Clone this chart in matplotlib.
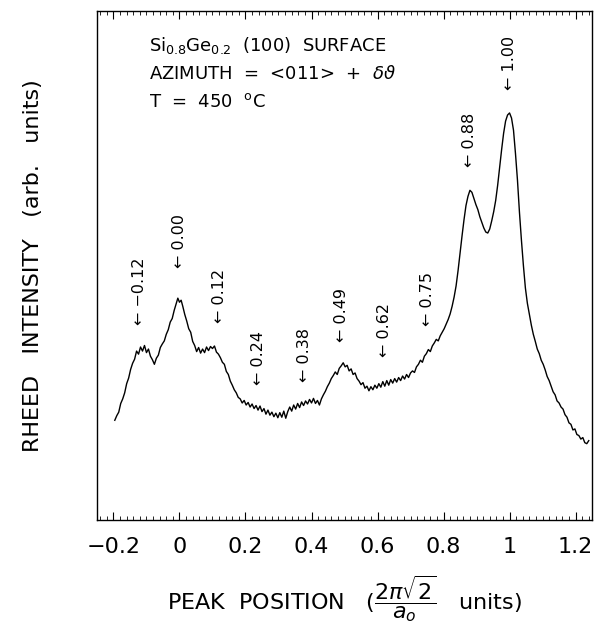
import numpy as np
import matplotlib
matplotlib.use("Agg")
import matplotlib.pyplot as plt
from matplotlib.ticker import MultipleLocator

# RHEED intensity scan (arb. units, 0-100)
position = [
    -0.196, -0.190, -0.184, -0.178, -0.172, -0.166, -0.160, -0.154, -0.148, -0.142,
    -0.136, -0.130, -0.124, -0.118, -0.112, -0.106, -0.100, -0.094, -0.088, -0.082,
    -0.076, -0.070, -0.064, -0.058, -0.052, -0.046, -0.040, -0.034, -0.028, -0.022,
    -0.016, -0.010, -0.005, 0.000, 0.005, 0.010, 0.016, 0.022, 0.028, 0.034,
    0.040, 0.046, 0.052, 0.058, 0.064, 0.070, 0.076, 0.082, 0.088, 0.094,
    0.100, 0.106, 0.112, 0.118, 0.124, 0.130, 0.136, 0.142, 0.148, 0.154,
    0.160, 0.166, 0.172, 0.178, 0.184, 0.190, 0.196, 0.202, 0.208, 0.214,
    0.220, 0.226, 0.232, 0.238, 0.244, 0.250, 0.256, 0.262, 0.268, 0.274,
    0.280, 0.286, 0.292, 0.298, 0.304, 0.310, 0.316, 0.322, 0.328, 0.334,
    0.340, 0.346, 0.352, 0.358, 0.364, 0.370, 0.376, 0.382, 0.388, 0.394,
    0.400, 0.406, 0.412, 0.418, 0.424, 0.430, 0.436, 0.442, 0.448, 0.454,
    0.460, 0.466, 0.472, 0.478, 0.484, 0.490, 0.496, 0.502, 0.508, 0.514,
    0.520, 0.526, 0.532, 0.538, 0.544, 0.550, 0.556, 0.562, 0.568, 0.574,
    0.580, 0.586, 0.592, 0.598, 0.604, 0.610, 0.616, 0.622, 0.628, 0.634,
    0.640, 0.646, 0.652, 0.658, 0.664, 0.670, 0.676, 0.682, 0.688, 0.694,
    0.700, 0.706, 0.712, 0.718, 0.724, 0.730, 0.736, 0.742, 0.748, 0.754,
    0.760, 0.766, 0.772, 0.778, 0.784, 0.790, 0.796, 0.802, 0.808, 0.814,
    0.820, 0.826, 0.832, 0.838, 0.844, 0.850, 0.856, 0.862, 0.868, 0.874,
    0.880, 0.886, 0.892, 0.898, 0.904, 0.910, 0.916, 0.922, 0.928, 0.934,
    0.940, 0.946, 0.952, 0.958, 0.964, 0.970, 0.976, 0.982, 0.988, 0.994,
    1.000, 1.006, 1.012, 1.018, 1.024, 1.030, 1.036, 1.042, 1.048, 1.054,
    1.060, 1.066, 1.072, 1.078, 1.084, 1.090, 1.096, 1.102, 1.108, 1.114,
    1.120, 1.126, 1.132, 1.138, 1.144, 1.150, 1.156, 1.162, 1.168, 1.174,
    1.180, 1.186, 1.192, 1.198, 1.204, 1.210, 1.216, 1.222, 1.228, 1.234,
    1.240,
]
intensity = [
    19.6, 20.5, 21.2, 22.9, 23.8, 25.0, 26.8, 27.9, 29.6, 30.8,
    31.6, 33.2, 32.6, 34.0, 33.2, 34.3, 32.9, 33.6, 32.2, 31.5,
    30.6, 31.8, 32.4, 33.9, 34.6, 35.2, 36.5, 37.4, 38.9, 39.6,
    41.2, 42.5, 43.6, 42.8, 43.2, 42.0, 40.4, 39.1, 37.6, 36.9,
    35.1, 34.3, 33.1, 33.9, 32.8, 33.6, 32.9, 34.0, 33.3, 34.1,
    33.7, 34.2, 33.0, 32.6, 31.9, 31.0, 30.6, 29.2, 28.6, 27.3,
    26.5, 25.6, 25.0, 24.1, 23.8, 23.0, 23.5, 22.6, 23.1, 22.2,
    22.8, 21.9, 22.5, 21.6, 22.4, 21.3, 21.9, 20.8, 21.6, 20.6,
    21.2, 20.3, 21.0, 20.1, 21.1, 20.2, 21.4, 20.0, 21.3, 22.2,
    21.4, 22.6, 21.8, 22.9, 22.1, 23.2, 22.5, 23.4, 22.8, 23.7,
    23.0, 23.9, 22.9, 23.5, 22.6, 23.8, 24.6, 25.3, 26.2, 26.9,
    27.8, 28.4, 29.1, 28.6, 29.8, 30.3, 30.9, 30.1, 30.4, 29.3,
    29.7, 28.6, 28.9, 27.8, 27.3, 26.6, 27.0, 25.9, 26.3, 25.4,
    26.2, 25.6, 26.5, 25.9, 26.8, 26.1, 27.2, 26.3, 27.4, 26.5,
    27.6, 26.9, 27.8, 27.1, 28.0, 27.4, 28.3, 27.7, 28.6, 28.0,
    28.9, 29.3, 29.0, 30.1, 30.6, 31.4, 31.0, 32.2, 32.7, 33.5,
    33.1, 34.2, 34.8, 35.5, 35.2, 36.2, 36.9, 37.6, 38.5, 39.4,
    40.5, 42.0, 43.8, 46.0, 49.0, 52.4, 55.8, 59.0, 61.8, 63.6,
    64.8, 64.4, 63.2, 62.0, 61.0, 59.6, 58.5, 57.4, 56.6, 56.4,
    57.2, 58.8, 60.6, 62.8, 65.8, 69.4, 72.8, 76.0, 78.4, 79.6,
    80.0, 79.0, 76.6, 72.0, 66.8, 60.5, 55.0, 50.0, 45.6, 42.6,
    40.4, 38.3, 36.5, 35.1, 33.6, 32.7, 31.4, 30.6, 29.5, 28.2,
    27.4, 26.3, 25.2, 24.6, 23.4, 23.0, 22.2, 21.8, 20.7, 20.2,
    19.1, 18.8, 17.7, 17.9, 16.8, 16.6, 15.9, 16.2, 15.2, 15.0,
    15.6,
]

# peak markers: label text, position, height of arrow tip
peak_labels = ["\u22120.12", "0.00", "0.12", "0.24", "0.38", "0.49", "0.62", "0.75", "0.88", "1.00"]
peak_pos = [-0.12, 0.00, 0.12, 0.24, 0.38, 0.49, 0.62, 0.75, 0.88, 1.00]
arrow_tip = [38.3, 49.5, 38.7, 26.5, 27.1, 35.0, 32.0, 38.1, 69.4, 84.5]

xticks = [-0.2, 0, 0.2, 0.4, 0.6, 0.8, 1, 1.2]
xticklabels = ["\u22120.2", "0", "0.2", "0.4", "0.6", "0.8", "1", "1.2"]

plt.rcParams["font.family"] = "DejaVu Sans"
plt.rcParams["mathtext.fontset"] = "dejavusans"

fig = plt.figure(figsize=(6.06, 6.4), dpi=100)
ax = fig.add_axes([0.160, 0.1875, 0.817, 0.795])

ax.plot(position, intensity, color="black", lw=1.0)

ax.set_xlim(-0.25, 1.25)
ax.set_ylim(0, 100)
ax.set_xticks(xticks)
ax.set_xticklabels(xticklabels)
ax.xaxis.set_minor_locator(MultipleLocator(0.02))
ax.set_yticks([])
ax.tick_params(axis="x", which="both", direction="in", top=True, labelsize=16, pad=12)
ax.tick_params(axis="x", which="major", length=6, width=0.8)
ax.tick_params(axis="x", which="minor", length=3, width=0.6)
for s in ax.spines.values():
    s.set_linewidth(1.0)

ax.set_xlabel(r"PEAK  POSITION   ($\dfrac{2\pi\sqrt{2}}{a_o}$   units)", fontsize=16, labelpad=12)
ax.set_ylabel("RHEED   INTENSITY   (arb.   units)", fontsize=16, labelpad=39)

for lab, xp, yp in zip(peak_labels, peak_pos, arrow_tip):
    ax.text(xp, yp, "\u2190 " + lab, rotation=90, ha="center", va="bottom", fontsize=11.5)

ax.text(0.105, 0.932, r"Si$_{0.8}$Ge$_{0.2}$  (100)  SURFACE", transform=ax.transAxes,
        fontsize=13, va="center")
ax.text(0.105, 0.876, r"AZIMUTH  =  <011>  +  $\delta\vartheta$", transform=ax.transAxes,
        fontsize=13, va="center")
ax.text(0.105, 0.822, r"T  =  450  $^{\mathrm{o}}$C", transform=ax.transAxes,
        fontsize=13, va="center")

fig.savefig("out.png", dpi=100)
